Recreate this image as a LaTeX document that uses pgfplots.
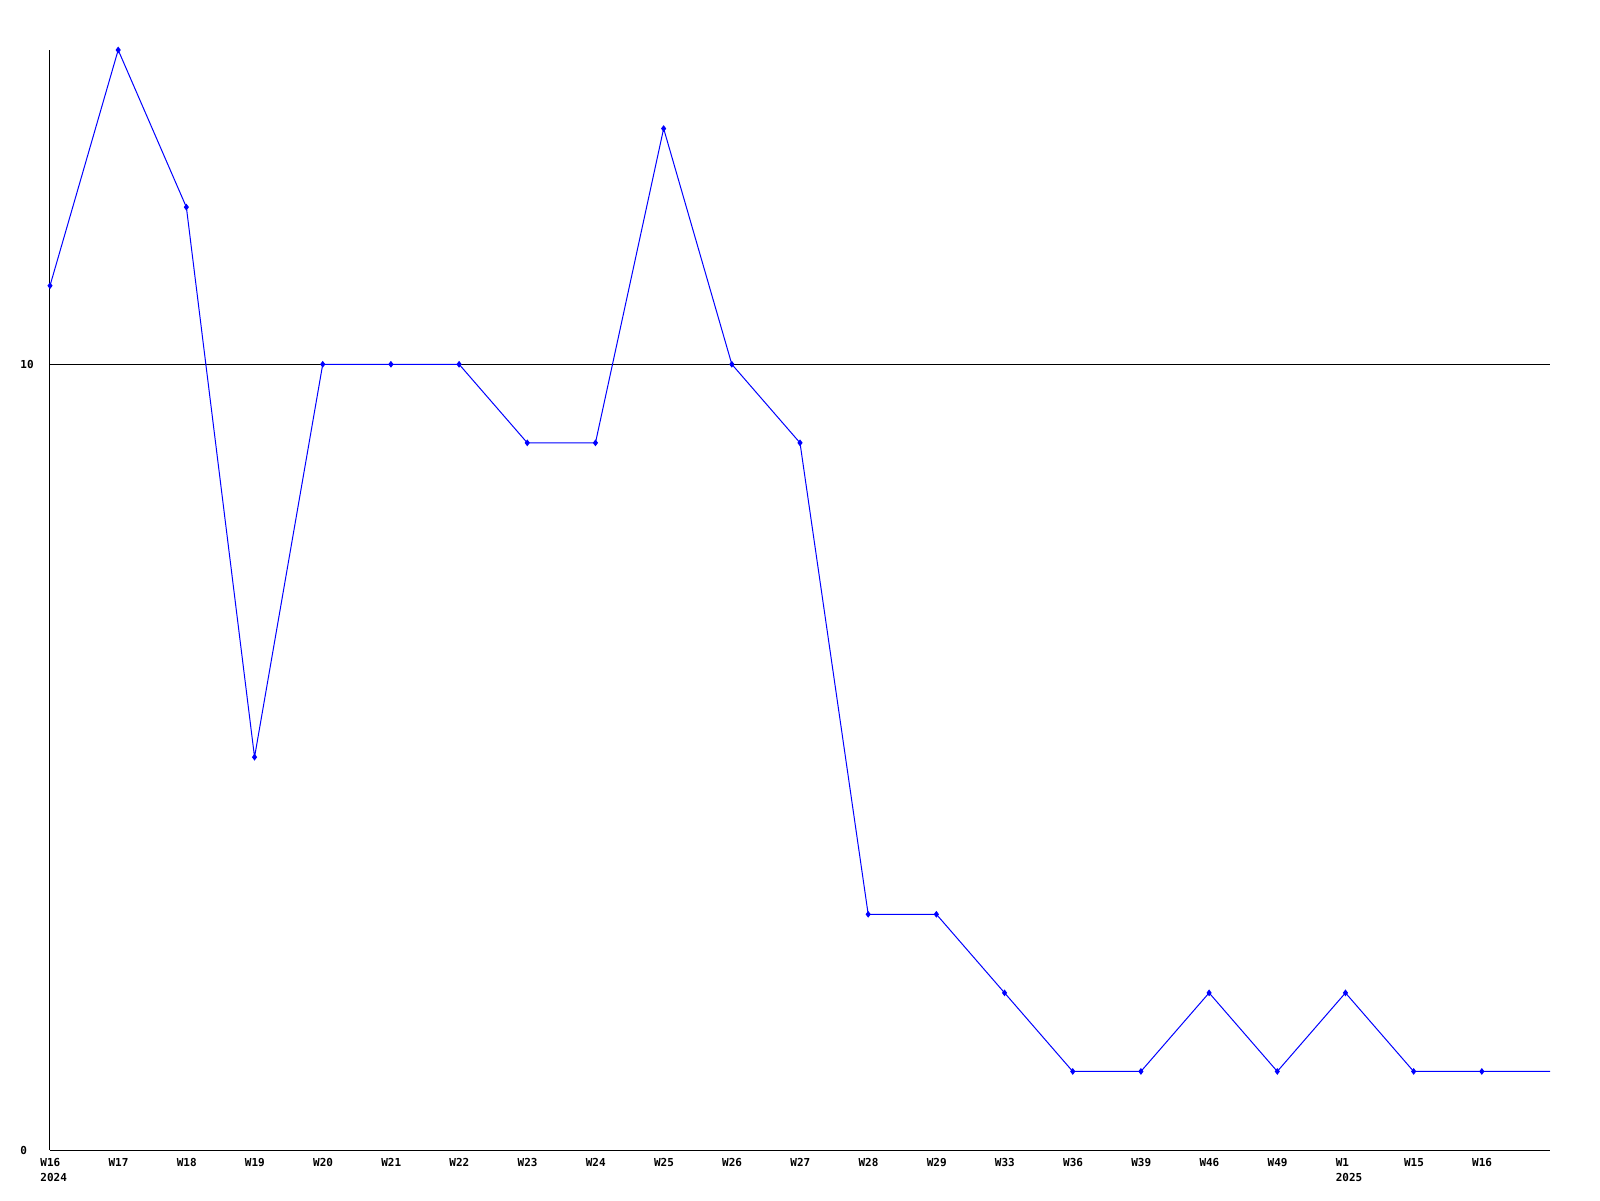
\documentclass[border=0pt]{standalone}
\usepackage{fontspec}
\setmonofont{DejaVu Sans Mono}
\setmainfont{DejaVu Sans Mono}
\usepackage{pgfplots}
\pgfplotsset{compat=1.18}
\begin{document}
\begin{tikzpicture}
\begin{axis}[
  anchor=south west, at={(0,0)},
  scale only axis, width=750pt, height=550pt,
  xmin=0, xmax=22, ymin=0, ymax=14,
  axis x line=bottom, axis y line=left,
  axis line style={-, black, line width=0.5pt},
  major tick length=0pt,
  ytick={0,10}, yticklabels={0,10},
  ymajorgrids, grid style={black, line width=0.5pt},
  xtick={0,...,21},
  xticklabels={{W16\\2024},W17,W18,W19,W20,W21,W22,W23,W24,W25,W26,W27,W28,W29,W33,W36,W39,W46,W49,{W1\\2025},W15,W16},
  tick label style={font=\fontsize{5.5}{7.5}\selectfont\bfseries},
  yticklabel style={anchor=west, inner sep=0pt, xshift=-15pt},
  xticklabel style={anchor=north west, inner sep=0pt, xshift=-5pt, yshift=-4pt, align=left},
  /pgf/number format/assume math mode=true,
  clip=false,
]
\addplot[color={rgb,255:red,0;green,0;blue,255}, line width=0.5pt, mark=diamond*, mark size=1.3pt, mark indices={1,...,22}] coordinates {
(0,11) (1,14) (2,12) (3,5) (4,10) (5,10) (6,10) (7,9) (8,9) (9,13) (10,10) (11,9) (12,3) (13,3) (14,2) (15,1) (16,1) (17,2) (18,1) (19,2) (20,1) (21,1) (22,1)
};
\end{axis}
\pgfresetboundingbox
\path (-25pt,-25pt) rectangle (775pt,575pt);
\end{tikzpicture}
\end{document}
